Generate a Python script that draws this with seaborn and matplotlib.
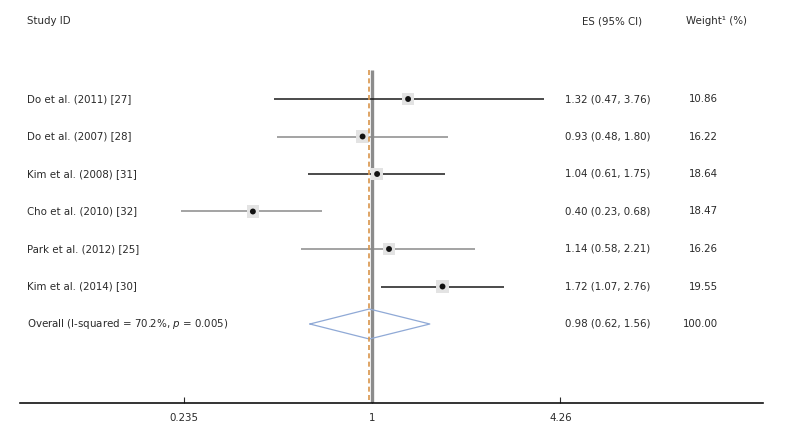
import numpy as np
import matplotlib
matplotlib.use("Agg")
import matplotlib.pyplot as plt
import matplotlib.transforms as mtransforms
import seaborn as sns
import pandas as pd

sns.set_style("white")
plt.rcParams['font.family'] = ['Liberation Sans Narrow', 'DejaVu Sans']
plt.rcParams['font.stretch'] = 'condensed'

# Dados
studies = ["Do et al. (2011) [27]", "Do et al. (2007) [28]", "Kim et al. (2008) [31]",
           "Cho et al. (2010) [32]", "Park et al. (2012) [25]", "Kim et al. (2014) [30]"]
es = [1.32, 0.93, 1.04, 0.40, 1.14, 1.72]
lo = [0.47, 0.48, 0.61, 0.23, 0.58, 1.07]
hi = [3.76, 1.80, 1.75, 0.68, 2.21, 2.76]
weights = [10.86, 16.22, 18.64, 18.47, 16.26, 19.55]
line_colors = ["#1a1a1a", "#8a8a8a", "#1a1a1a", "#8a8a8a", "#8a8a8a", "#1a1a1a"]
overall_label = "Overall (I-squared = 70.2%, $p$ = 0.005)"
overall_es, overall_lo, overall_hi, overall_w = 0.98, 0.62, 1.56, 100.00
tick_vals = [0.235, 1, 4.26]
tick_labels = ["0.235", "1", "4.26"]

df = pd.DataFrame({"study": studies, "es": es, "lo": lo, "hi": hi,
                   "weight": weights, "row": np.arange(len(studies))})

fig = plt.figure(figsize=(7.91, 4.33), dpi=100)
ax = fig.add_axes([20 / 791, 30 / 433, 743 / 791, 403 / 433])
ax.set_xscale("log")
ax.set_xlim(np.exp(-352 / 130), np.exp(391 / 130))
ax.set_ylim((403 - 99) / 37.5, -99 / 37.5)

# Linhas verticais (nulo e efeito global)
top = (70 - 99) / 37.5
bottom = (403 - 99) / 37.5
ax.vlines(1, top, bottom, color="#8c8c8c", lw=2.4, zorder=1)
ax.vlines(overall_es, top, bottom, color="#d9954a", lw=1.2,
          linestyles=(0, (3, 2)), zorder=6)

# Intervalos de confiança
for i, r in df.iterrows():
    ax.hlines(r["row"], r["lo"], r["hi"], color=line_colors[i], lw=1.1, zorder=3)

# Caixas de peso e pontos
sns.scatterplot(data=df, x="es", y="row", size="weight", sizes=(65, 85),
                marker="s", color="#e3e3e3", edgecolor="none", legend=False,
                ax=ax, zorder=4)
sns.scatterplot(data=df, x="es", y="row", color="#111111", s=18,
                edgecolor="none", legend=False, ax=ax, zorder=5)

# Diamante global
orow = len(studies)
ax.plot([overall_lo, overall_es, overall_hi, overall_es, overall_lo],
        [orow, orow - 0.4, orow, orow + 0.4, orow],
        color="#8fa9d6", lw=0.9, zorder=4)

# Textos
trans = mtransforms.blended_transform_factory(fig.transFigure, ax.transData)
fs = 8.2
tc = "#2a2a2a"
hy = (21 - 99) / 37.5
ax.text(27 / 791, hy, "Study ID", transform=trans, fontsize=fs, va="center", color=tc)
ax.text(582 / 791, hy, "ES (95% CI)", transform=trans, fontsize=fs, va="center", color=tc)
ax.text(686 / 791, hy, "Weight¹ (%)", transform=trans, fontsize=fs, va="center", color=tc)

for i, r in df.iterrows():
    ax.text(27 / 791, r["row"], r["study"], transform=trans, fontsize=fs, va="center", color=tc)
    ax.text(565 / 791, r["row"], f"{r['es']:.2f} ({r['lo']:.2f}, {r['hi']:.2f})",
            transform=trans, fontsize=fs, va="center", color=tc)
    ax.text(718 / 791, r["row"], f"{r['weight']:.2f}", transform=trans, fontsize=fs,
            va="center", ha="right", color=tc)

ax.text(27 / 791, orow, overall_label, transform=trans, fontsize=fs, va="center", color=tc)
ax.text(565 / 791, orow, f"{overall_es:.2f} ({overall_lo:.2f}, {overall_hi:.2f})",
        transform=trans, fontsize=fs, va="center", color=tc)
ax.text(718 / 791, orow, f"{overall_w:.2f}", transform=trans, fontsize=fs,
        va="center", ha="right", color=tc)

# Eixo
for s in ["top", "left", "right"]:
    ax.spines[s].set_visible(False)
ax.spines["bottom"].set_color("#111111")
ax.spines["bottom"].set_linewidth(1.2)
ax.set_yticks([])
ax.xaxis.set_minor_locator(matplotlib.ticker.NullLocator())
ax.set_xticks(tick_vals)
ax.set_xticklabels(tick_labels)
ax.tick_params(axis="x", direction="in", length=4, width=0.8, pad=7,
               labelsize=fs, colors=tc, bottom=True)
ax.set_xlabel("")
ax.set_ylabel("")

fig.savefig("out.png", dpi=100)
